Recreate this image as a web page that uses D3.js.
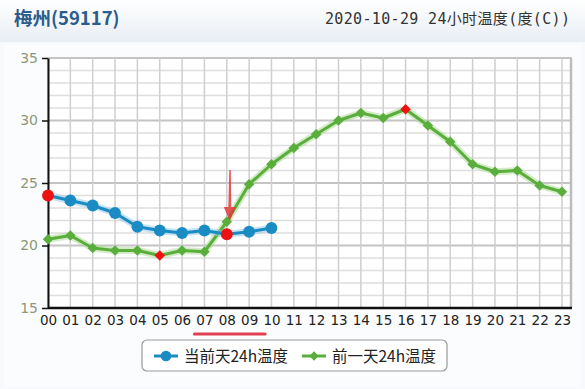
<!DOCTYPE html>
<html>
<head>
  <meta charset="utf-8">
  <script src="https://d3js.org/d3.v7.min.js"></script>
  <style>
    body { margin: 0; background: #f6f8fb; }
    svg { display: block; }
  </style>
</head>
<body>
  <div id="chart"></div>
  <script>
    // hours and temperatures
    const hours = ["00","01","02","03","04","05","06","07","08","09","10","11",
                   "12","13","14","15","16","17","18","19","20","21","22","23"];
    const today = [24.0, 23.6, 23.2, 22.6, 21.5, 21.2, 21.0, 21.2, 20.9, 21.1, 21.4];
    const yesterday = [20.5, 20.8, 19.8, 19.6, 19.6, 19.2, 19.6, 19.5, 21.9, 24.9, 26.5, 27.8,
                       28.9, 30.0, 30.6, 30.2, 30.9, 29.6, 28.3, 26.5, 25.9, 26.0, 24.8, 24.3];
    const yTicks = [15, 20, 25, 30, 35];

    const W = 585, H = 389;
    const svg = d3.select("#chart").append("svg").attr("width", W).attr("height", H);

    // background
    const defs = svg.append("defs");
    const grad = defs.append("linearGradient").attr("id", "hdr").attr("x1", 0).attr("y1", 0).attr("x2", 0).attr("y2", 1);
    grad.append("stop").attr("offset", "0%").attr("stop-color", "#ffffff");
    grad.append("stop").attr("offset", "100%").attr("stop-color", "#e8eef4");
    svg.append("rect").attr("width", W).attr("height", H).attr("fill", "#f7f9fc");
    svg.append("rect").attr("width", W).attr("height", 42).attr("fill", "url(#hdr)");
    svg.append("rect").attr("x", 4).attr("y", 44).attr("width", W - 8).attr("height", H - 46)
      .attr("fill", "#fbfcfe");

    // header
    svg.append("text").attr("x", 14).attr("y", 25)
      .attr("font-family", "'Noto Sans CJK SC', sans-serif").attr("font-weight", "bold")
      .attr("font-size", 18.5).attr("fill", "#2a5d8c").text("梅州(59117)");
    svg.append("text").attr("x", 325).attr("y", 24)
      .attr("font-family", "'DejaVu Sans Mono', 'Noto Sans CJK SC', monospace")
      .attr("font-size", 15).attr("fill", "#333")
      .attr("textLength", 245).attr("lengthAdjust", "spacing")
      .text("2020-10-29 24小时温度(度(C))");

    const pL = 48, pR = 562, pT = 58, pB = 308, frameR = 572;
    const x = d3.scalePoint().domain(hours).range([pL, pR]);
    const y = d3.scaleLinear().domain([15, 35]).range([pB, pT]);

    // plot background + grid
    svg.append("rect").attr("x", pL).attr("y", pT).attr("width", frameR - pL).attr("height", pB - pT)
      .attr("fill", "#ffffff");
    const g = svg.append("g");
    d3.range(15, 36).forEach(v => {
      g.append("line").attr("x1", pL).attr("x2", frameR).attr("y1", y(v)).attr("y2", y(v))
        .attr("stroke", v % 5 === 0 ? "#c4c4c4" : "#dedede").attr("stroke-width", v % 5 === 0 ? 2 : 1.5);
    });
    hours.forEach(h => {
      g.append("line").attr("x1", x(h)).attr("x2", x(h)).attr("y1", pT).attr("y2", pB)
        .attr("stroke", "#cfcfcf").attr("stroke-width", 1.5);
    });
    g.append("line").attr("x1", frameR - 1).attr("x2", frameR - 1).attr("y1", pT).attr("y2", pB)
      .attr("stroke", "#bdbdbd").attr("stroke-width", 2.5);

    // axes
    const yAxis = svg.append("g").attr("transform", `translate(${pL},0)`)
      .call(d3.axisLeft(y).tickValues(yTicks).tickSize(6).tickSizeOuter(0).tickPadding(4));
    yAxis.select(".domain").attr("stroke", "#111").attr("stroke-width", 2);
    yAxis.selectAll(".tick line").attr("stroke", "#111").attr("stroke-width", 1.5);
    yAxis.selectAll("text").attr("font-family", "'DejaVu Sans', sans-serif").attr("font-size", 14)
      .attr("fill", "#8c9878");

    const xAxis = svg.append("g").attr("transform", `translate(0,${pB})`)
      .call(d3.axisBottom(x).tickSize(0).tickPadding(7));
    xAxis.select(".domain").attr("stroke", "#111").attr("stroke-width", 2.5)
      .attr("d", `M${pL},0H${frameR}`);
    xAxis.selectAll("text").attr("font-family", "'DejaVu Sans', sans-serif").attr("font-size", 13.5)
      .attr("fill", "#222");

    const line = d3.line().x((d, i) => x(hours[i])).y(d => y(d));

    function drawSeries(data, color, halo, shape) {
      const mx = d3.max(data), mn = d3.min(data);
      svg.append("path").datum(data).attr("d", line).attr("fill", "none")
        .attr("stroke", halo).attr("stroke-width", 7).attr("stroke-linejoin", "round").attr("opacity", 0.5);
      svg.append("path").datum(data).attr("d", line).attr("fill", "none")
        .attr("stroke", color).attr("stroke-width", 3).attr("stroke-linejoin", "round");
      const sym = d3.symbol().type(shape === "circle" ? d3.symbolCircle : d3.symbolDiamond2)
        .size(shape === "circle" ? 110 : 70);
      svg.append("g").selectAll("path").data(data).join("path")
        .attr("transform", (d, i) => `translate(${x(hours[i])},${y(d)})`)
        .attr("d", sym)
        .attr("fill", d => (d === mx || d === mn) ? "#ee1111" : color);
    }

    drawSeries(yesterday, "#5aae3c", "#a8d890", "diamond");
    drawSeries(today, "#1b8bc4", "#8cc8e8", "circle");

    // red annotation arrow (tapered)
    const ax = x("08") + 3;
    svg.append("path")
      .attr("d", `M${ax - 0.5},170 L${ax + 1},170 L${ax + 1.5},207 L${ax + 6},207 L${ax},221 L${ax - 6},207 L${ax - 1.5},207 Z`)
      .attr("fill", "#e23a3a").attr("opacity", 0.85);

    // red underline under 07-09
    svg.append("line").attr("x1", x("07") - 10).attr("x2", x("09") + 16).attr("y1", 334).attr("y2", 334)
      .attr("stroke", "#e0404f").attr("stroke-width", 3).attr("stroke-linecap", "round");

    // legend
    const lg = svg.append("g");
    lg.append("rect").attr("x", 142).attr("y", 340).attr("width", 305).attr("height", 31).attr("rx", 5)
      .attr("fill", "#ffffff").attr("stroke", "#999").attr("stroke-width", 1.2);
    const items = [
      { name: "当前天24h温度", color: "#1b8bc4", shape: d3.symbolCircle, size: 90, x: 154 },
      { name: "前一天24h温度", color: "#5aae3c", shape: d3.symbolDiamond2, size: 55, x: 302 }
    ];
    items.forEach(it => {
      lg.append("line").attr("x1", it.x).attr("x2", it.x + 24).attr("y1", 356).attr("y2", 356)
        .attr("stroke", it.color).attr("stroke-width", 3);
      lg.append("path").attr("transform", `translate(${it.x + 12},356)`)
        .attr("d", d3.symbol().type(it.shape).size(it.size)).attr("fill", it.color);
      lg.append("text").attr("x", it.x + 30).attr("y", 362)
        .attr("font-family", "'Noto Sans CJK SC', sans-serif").attr("font-size", 15.5)
        .attr("fill", "#222").text(it.name);
    });
  </script>
</body>
</html>
